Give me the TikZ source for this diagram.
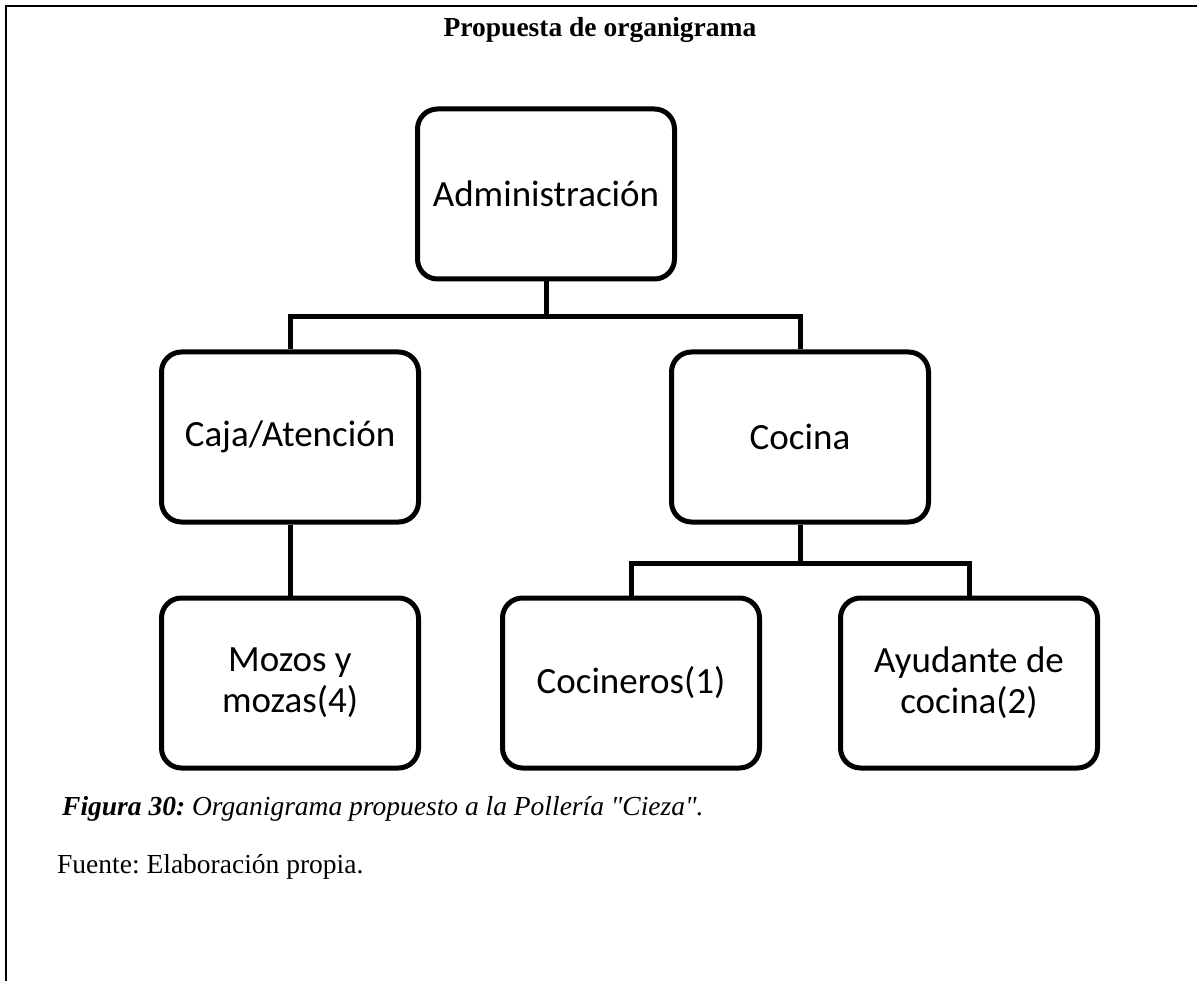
\documentclass[tikz,border=0pt]{standalone}
\usepackage{fontspec}
\setmainfont{Liberation Serif}
\newfontfamily\boxfont{Carlito}
\usepackage{tikz}
\usetikzlibrary{positioning}
\frenchspacing
\tikzstyle{cargo} = [draw, line width=5pt, rounded corners=20pt,
    minimum width=257pt, minimum height=170pt, align=center,
    font=\boxfont\fontsize{37}{41}\selectfont]
\tikzstyle{nota} = [anchor=base west, inner sep=0pt,
    font=\fontsize{27.5}{32}\selectfont]
\tikzset{enlace/.style={line width=5pt}}

\begin{document}
\begin{tikzpicture}[x=1pt,y=-1pt]
\useasboundingbox (0,0) rectangle (1197,981);
\begin{scope}
    %frame
    \draw[line width=2.5pt] (1197,6) -- (6,6) -- (6,981);
    %title
    \node[anchor=base, inner sep=0pt, font=\bfseries\fontsize{27.5}{32}\selectfont] (titulo) at (600,37) {Propuesta de organigrama};
    %boxes
    \node[cargo] (adm) at (546,194) {Administración};
    \node[cargo] (caja) at (290,437) {Caja/Atención};
    \node[cargo] (cocina) at (800,437) {Cocina};
    \node[cargo] (mozos) at (290,683) {Mozos y\\mozas(4)};
    \node[cargo] (cocineros) at (631,683) {Cocineros(1)};
    \node[cargo] (ayudante) at (969,683) {Ayudante de\\cocina(2)};
    %lines
    \coordinate (b1) at (546,317);
    \coordinate (b2) at (800,563);
    \draw[enlace] (adm.south) -- (b1);
    \draw[enlace] (caja.north) |- (b1) -| (cocina.north);
    \draw[enlace] (caja.south) -- (mozos.north);
    \draw[enlace] (cocina.south) -- (b2);
    \draw[enlace] (cocineros.north) |- (b2) -| (ayudante.north);
    %caption
    \node[nota] (figura) at (62,815)
        {\textbf{\textit{Figura 30:}} \textit{Organigrama propuesto a la Pollería \textquotedbl Cieza\textquotedbl.}};
    \node[nota] (fuente) at (57,873) {Fuente: Elaboración propia.};
\end{scope}
\end{tikzpicture}
\end{document}
